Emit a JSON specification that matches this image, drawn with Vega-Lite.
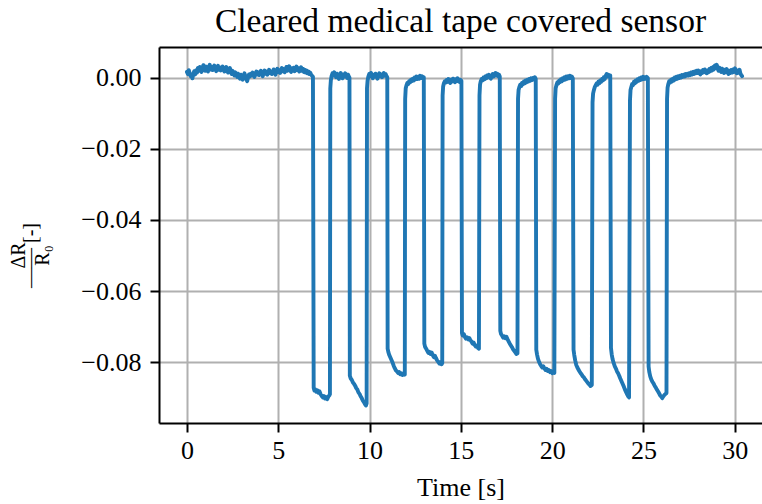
{
  "$schema": "https://vega.github.io/schema/vega-lite/v6.json",
  "width": 603,
  "height": 376,
  "autosize": {"type": "none"},
  "padding": {"left": 159, "top": 47, "right": 0, "bottom": 81},
  "background": "white",
  "title": {
    "text": "Cleared medical tape covered sensor",
    "font": "Liberation Serif",
    "fontSize": 33.5,
    "fontWeight": "normal",
    "color": "black",
    "anchor": "middle",
    "frame": "group",
    "baseline": "alphabetic",
    "offset": -18
  },
  "config": {
    "view": {"stroke": null},
    "font": "Liberation Serif",
    "axis": {
      "domainColor": "black",
      "domainWidth": 2,
      "tickColor": "black",
      "tickWidth": 2,
      "tickSize": 9,
      "gridColor": "#b0b0b0",
      "gridWidth": 2,
      "labelFont": "Liberation Serif",
      "labelFontSize": 26,
      "labelColor": "black",
      "labelFlush": false,
      "labelOverlap": false,
      "titleFont": "Liberation Serif",
      "titleFontSize": 26,
      "titleFontWeight": "normal",
      "titleColor": "black"
    }
  },
  "data": {
    "values": [
      {"t":0.00,"v":0.0016},{"t":0.05,"v":0.0010},{"t":0.10,"v":0.0021},{"t":0.15,"v":0.0012},{"t":0.20,"v":0.0004},
      {"t":0.25,"v":0.0009},{"t":0.30,"v":-0.0002},{"t":0.35,"v":0.0011},{"t":0.40,"v":0.0018},{"t":0.45,"v":0.0009},
      {"t":0.50,"v":0.0021},{"t":0.55,"v":0.0014},{"t":0.60,"v":0.0027},{"t":0.65,"v":0.0019},{"t":0.70,"v":0.0030},
      {"t":0.75,"v":0.0022},{"t":0.80,"v":0.0016},{"t":0.85,"v":0.0028},{"t":0.90,"v":0.0035},{"t":0.95,"v":0.0024},
      {"t":1.00,"v":0.0019},{"t":1.05,"v":0.0031},{"t":1.10,"v":0.0026},{"t":1.15,"v":0.0017},{"t":1.20,"v":0.0029},
      {"t":1.25,"v":0.0036},{"t":1.30,"v":0.0023},{"t":1.35,"v":0.0030},{"t":1.40,"v":0.0021},{"t":1.45,"v":0.0027},
      {"t":1.50,"v":0.0034},{"t":1.55,"v":0.0025},{"t":1.60,"v":0.0018},{"t":1.65,"v":0.0028},{"t":1.70,"v":0.0033},
      {"t":1.75,"v":0.0022},{"t":1.80,"v":0.0029},{"t":1.85,"v":0.0020},{"t":1.90,"v":0.0026},{"t":1.95,"v":0.0031},
      {"t":2.00,"v":0.0023},{"t":2.05,"v":0.0017},{"t":2.10,"v":0.0025},{"t":2.15,"v":0.0030},{"t":2.20,"v":0.0021},
      {"t":2.25,"v":0.0014},{"t":2.30,"v":0.0022},{"t":2.35,"v":0.0027},{"t":2.40,"v":0.0016},{"t":2.45,"v":0.0010},
      {"t":2.50,"v":0.0019},{"t":2.55,"v":0.0012},{"t":2.60,"v":0.0006},{"t":2.65,"v":0.0015},{"t":2.70,"v":0.0009},
      {"t":2.75,"v":0.0002},{"t":2.80,"v":0.0011},{"t":2.85,"v":0.0004},{"t":2.90,"v":-0.0003},{"t":2.95,"v":0.0008},
      {"t":3.00,"v":0.0003},{"t":3.05,"v":-0.0006},{"t":3.10,"v":0.0005},{"t":3.15,"v":0.0012},{"t":3.20,"v":0.0004},
      {"t":3.25,"v":-0.0004},{"t":3.30,"v":-0.0010},{"t":3.35,"v":0.0001},{"t":3.40,"v":0.0009},{"t":3.45,"v":0.0003},
      {"t":3.50,"v":0.0011},{"t":3.55,"v":0.0006},{"t":3.60,"v":0.0014},{"t":3.65,"v":0.0008},{"t":3.70,"v":0.0002},
      {"t":3.75,"v":0.0012},{"t":3.80,"v":0.0017},{"t":3.85,"v":0.0009},{"t":3.90,"v":0.0015},{"t":3.95,"v":0.0007},
      {"t":4.00,"v":0.0013},{"t":4.05,"v":0.0019},{"t":4.10,"v":0.0010},{"t":4.15,"v":0.0004},{"t":4.20,"v":0.0014},
      {"t":4.25,"v":0.0020},{"t":4.30,"v":0.0011},{"t":4.35,"v":0.0017},{"t":4.40,"v":0.0008},{"t":4.45,"v":0.0015},
      {"t":4.50,"v":0.0022},{"t":4.55,"v":0.0013},{"t":4.60,"v":0.0018},{"t":4.65,"v":0.0010},{"t":4.70,"v":0.0016},
      {"t":4.75,"v":0.0023},{"t":4.80,"v":0.0014},{"t":4.85,"v":0.0008},{"t":4.90,"v":0.0019},{"t":4.95,"v":0.0025},
      {"t":5.00,"v":0.0016},{"t":5.05,"v":0.0021},{"t":5.10,"v":0.0013},{"t":5.15,"v":0.0020},{"t":5.20,"v":0.0027},
      {"t":5.25,"v":0.0018},{"t":5.30,"v":0.0024},{"t":5.35,"v":0.0015},{"t":5.40,"v":0.0022},{"t":5.45,"v":0.0030},
      {"t":5.50,"v":0.0019},{"t":5.55,"v":0.0025},{"t":5.60,"v":0.0032},{"t":5.65,"v":0.0021},{"t":5.70,"v":0.0016},
      {"t":5.75,"v":0.0026},{"t":5.80,"v":0.0020},{"t":5.85,"v":0.0028},{"t":5.90,"v":0.0018},{"t":5.95,"v":0.0024},
      {"t":6.00,"v":0.0031},{"t":6.05,"v":0.0021},{"t":6.10,"v":0.0027},{"t":6.15,"v":0.0017},{"t":6.20,"v":0.0023},
      {"t":6.25,"v":0.0029},{"t":6.30,"v":0.0019},{"t":6.35,"v":0.0025},{"t":6.40,"v":0.0016},{"t":6.45,"v":0.0022},
      {"t":6.50,"v":0.0014},{"t":6.55,"v":0.0020},{"t":6.60,"v":0.0012},{"t":6.65,"v":0.0017},{"t":6.70,"v":0.0010},
      {"t":6.75,"v":0.0014},{"t":6.80,"v":0.0008},{"t":6.85,"v":0.0005},{"t":6.90,"v":0.0002},
      {"t":6.94,"v":-0.0872},{"t":6.98,"v":-0.0880},{"t":7.02,"v":-0.0876},{"t":7.08,"v":-0.0883},{"t":7.14,"v":-0.0879},
      {"t":7.20,"v":-0.0886},{"t":7.26,"v":-0.0882},{"t":7.32,"v":-0.0890},{"t":7.38,"v":-0.0895},{"t":7.44,"v":-0.0899},
      {"t":7.50,"v":-0.0895},{"t":7.56,"v":-0.0902},{"t":7.62,"v":-0.0898},{"t":7.68,"v":-0.0904},{"t":7.74,"v":-0.0897},
      {"t":7.80,"v":-0.0893},{"t":7.83,"v":-0.0890},
      {"t":7.85,"v":-0.0030},{"t":7.88,"v":-0.0008},{"t":7.92,"v":0.0004},{"t":7.97,"v":0.0012},{"t":8.02,"v":0.0006},
      {"t":8.07,"v":0.0015},{"t":8.12,"v":0.0008},{"t":8.17,"v":0.0001},{"t":8.22,"v":0.0011},{"t":8.27,"v":0.0004},
      {"t":8.32,"v":-0.0004},{"t":8.37,"v":0.0007},{"t":8.42,"v":0.0013},{"t":8.47,"v":0.0005},{"t":8.52,"v":-0.0002},
      {"t":8.57,"v":0.0009},{"t":8.62,"v":0.0003},{"t":8.67,"v":0.0012},{"t":8.72,"v":0.0006},{"t":8.77,"v":-0.0001},
      {"t":8.82,"v":0.0008},{"t":8.87,"v":0.0003},{"t":8.90,"v":0.0000},
      {"t":8.92,"v":-0.0838},{"t":8.97,"v":-0.0846},{"t":9.03,"v":-0.0850},{"t":9.09,"v":-0.0857},{"t":9.15,"v":-0.0861},
      {"t":9.21,"v":-0.0866},{"t":9.27,"v":-0.0873},{"t":9.33,"v":-0.0877},{"t":9.39,"v":-0.0885},{"t":9.45,"v":-0.0889},
      {"t":9.51,"v":-0.0896},{"t":9.57,"v":-0.0901},{"t":9.63,"v":-0.0908},{"t":9.69,"v":-0.0912},{"t":9.75,"v":-0.0918},
      {"t":9.80,"v":-0.0922},{"t":9.84,"v":-0.0916},
      {"t":9.86,"v":-0.0030},{"t":9.89,"v":-0.0009},{"t":9.93,"v":0.0002},{"t":9.98,"v":0.0010},{"t":10.03,"v":0.0004},
      {"t":10.08,"v":0.0013},{"t":10.13,"v":0.0006},{"t":10.18,"v":-0.0002},{"t":10.23,"v":0.0008},{"t":10.28,"v":0.0003},
      {"t":10.33,"v":0.0011},{"t":10.38,"v":0.0005},{"t":10.43,"v":-0.0003},{"t":10.48,"v":0.0007},{"t":10.53,"v":0.0012},
      {"t":10.58,"v":0.0004},{"t":10.63,"v":0.0009},{"t":10.68,"v":0.0001},{"t":10.73,"v":0.0008},{"t":10.78,"v":0.0013},
      {"t":10.83,"v":0.0005},{"t":10.88,"v":0.0010},{"t":10.93,"v":0.0004},{"t":10.97,"v":0.0001},
      {"t":10.99,"v":-0.0762},{"t":11.03,"v":-0.0772},{"t":11.08,"v":-0.0780},{"t":11.14,"v":-0.0787},{"t":11.20,"v":-0.0794},
      {"t":11.26,"v":-0.0801},{"t":11.32,"v":-0.0810},{"t":11.38,"v":-0.0817},{"t":11.44,"v":-0.0823},{"t":11.50,"v":-0.0826},
      {"t":11.56,"v":-0.0830},{"t":11.62,"v":-0.0828},{"t":11.68,"v":-0.0834},{"t":11.74,"v":-0.0831},{"t":11.80,"v":-0.0836},
      {"t":11.86,"v":-0.0832},{"t":11.93,"v":-0.0835},
      {"t":11.95,"v":-0.0060},{"t":11.98,"v":-0.0030},{"t":12.02,"v":-0.0022},{"t":12.07,"v":-0.0015},{"t":12.12,"v":-0.0018},
      {"t":12.17,"v":-0.0010},{"t":12.22,"v":-0.0013},{"t":12.27,"v":-0.0006},{"t":12.32,"v":-0.0010},{"t":12.37,"v":-0.0003},
      {"t":12.42,"v":-0.0008},{"t":12.47,"v":0.0000},{"t":12.52,"v":-0.0005},{"t":12.57,"v":0.0003},{"t":12.62,"v":-0.0004},
      {"t":12.67,"v":0.0002},{"t":12.72,"v":-0.0003},{"t":12.77,"v":0.0005},{"t":12.82,"v":-0.0001},{"t":12.87,"v":0.0004},
      {"t":12.92,"v":-0.0002},{"t":12.97,"v":0.0001},
      {"t":13.00,"v":-0.0748},{"t":13.04,"v":-0.0757},{"t":13.10,"v":-0.0762},{"t":13.16,"v":-0.0768},{"t":13.22,"v":-0.0774},
      {"t":13.28,"v":-0.0771},{"t":13.34,"v":-0.0777},{"t":13.40,"v":-0.0773},{"t":13.46,"v":-0.0780},{"t":13.52,"v":-0.0786},
      {"t":13.58,"v":-0.0782},{"t":13.64,"v":-0.0789},{"t":13.70,"v":-0.0795},{"t":13.76,"v":-0.0799},{"t":13.82,"v":-0.0804},
      {"t":13.88,"v":-0.0800},{"t":13.94,"v":-0.0806},{"t":13.98,"v":-0.0803},
      {"t":14.00,"v":-0.0050},{"t":14.03,"v":-0.0025},{"t":14.07,"v":-0.0016},{"t":14.12,"v":-0.0010},{"t":14.17,"v":-0.0014},
      {"t":14.22,"v":-0.0007},{"t":14.27,"v":-0.0012},{"t":14.32,"v":-0.0004},{"t":14.37,"v":-0.0009},{"t":14.42,"v":-0.0015},
      {"t":14.47,"v":-0.0006},{"t":14.52,"v":-0.0011},{"t":14.57,"v":-0.0003},{"t":14.62,"v":-0.0008},{"t":14.67,"v":-0.0013},
      {"t":14.72,"v":-0.0005},{"t":14.77,"v":-0.0010},{"t":14.82,"v":-0.0002},{"t":14.87,"v":-0.0007},{"t":14.92,"v":-0.0012},
      {"t":14.97,"v":-0.0006},{"t":15.03,"v":-0.0009},
      {"t":15.06,"v":-0.0718},{"t":15.10,"v":-0.0725},{"t":15.16,"v":-0.0721},{"t":15.22,"v":-0.0729},{"t":15.28,"v":-0.0734},
      {"t":15.34,"v":-0.0730},{"t":15.40,"v":-0.0736},{"t":15.46,"v":-0.0732},{"t":15.52,"v":-0.0738},{"t":15.58,"v":-0.0742},
      {"t":15.64,"v":-0.0748},{"t":15.70,"v":-0.0745},{"t":15.76,"v":-0.0752},{"t":15.82,"v":-0.0756},{"t":15.88,"v":-0.0753},
      {"t":15.94,"v":-0.0760},{"t":15.99,"v":-0.0762},
      {"t":16.02,"v":-0.0050},{"t":16.05,"v":-0.0020},{"t":16.09,"v":-0.0010},{"t":16.14,"v":-0.0004},{"t":16.19,"v":-0.0008},
      {"t":16.24,"v":0.0000},{"t":16.29,"v":-0.0005},{"t":16.34,"v":0.0003},{"t":16.39,"v":-0.0002},{"t":16.44,"v":0.0006},
      {"t":16.49,"v":0.0001},{"t":16.54,"v":0.0008},{"t":16.59,"v":0.0002},{"t":16.64,"v":-0.0003},{"t":16.69,"v":0.0005},
      {"t":16.74,"v":0.0010},{"t":16.79,"v":0.0003},{"t":16.84,"v":0.0009},{"t":16.89,"v":0.0013},{"t":16.94,"v":0.0006},
      {"t":16.99,"v":0.0011},{"t":17.04,"v":0.0004},{"t":17.09,"v":0.0008},{"t":17.13,"v":0.0003},
      {"t":17.16,"v":-0.0712},{"t":17.20,"v":-0.0721},{"t":17.26,"v":-0.0726},{"t":17.32,"v":-0.0731},{"t":17.38,"v":-0.0727},
      {"t":17.44,"v":-0.0733},{"t":17.50,"v":-0.0729},{"t":17.56,"v":-0.0736},{"t":17.62,"v":-0.0742},{"t":17.68,"v":-0.0748},
      {"t":17.74,"v":-0.0753},{"t":17.80,"v":-0.0758},{"t":17.86,"v":-0.0764},{"t":17.92,"v":-0.0768},{"t":17.98,"v":-0.0772},
      {"t":18.04,"v":-0.0777},{"t":18.10,"v":-0.0775},
      {"t":18.13,"v":-0.0060},{"t":18.16,"v":-0.0035},{"t":18.20,"v":-0.0027},{"t":18.25,"v":-0.0020},{"t":18.30,"v":-0.0024},
      {"t":18.35,"v":-0.0015},{"t":18.40,"v":-0.0019},{"t":18.45,"v":-0.0011},{"t":18.50,"v":-0.0016},{"t":18.55,"v":-0.0008},
      {"t":18.60,"v":-0.0013},{"t":18.65,"v":-0.0006},{"t":18.70,"v":-0.0011},{"t":18.75,"v":-0.0004},{"t":18.80,"v":-0.0009},
      {"t":18.85,"v":-0.0002},{"t":18.90,"v":-0.0007},{"t":18.95,"v":-0.0001},{"t":19.00,"v":-0.0005},{"t":19.05,"v":0.0001},
      {"t":19.10,"v":-0.0004},
      {"t":19.13,"v":-0.0765},{"t":19.17,"v":-0.0778},{"t":19.22,"v":-0.0790},{"t":19.28,"v":-0.0799},{"t":19.34,"v":-0.0806},
      {"t":19.40,"v":-0.0811},{"t":19.46,"v":-0.0815},{"t":19.52,"v":-0.0812},{"t":19.58,"v":-0.0818},{"t":19.64,"v":-0.0822},
      {"t":19.70,"v":-0.0819},{"t":19.76,"v":-0.0825},{"t":19.82,"v":-0.0822},{"t":19.88,"v":-0.0828},{"t":19.94,"v":-0.0825},
      {"t":20.00,"v":-0.0831},{"t":20.06,"v":-0.0827},{"t":20.12,"v":-0.0830},
      {"t":20.16,"v":-0.0060},{"t":20.19,"v":-0.0030},{"t":20.23,"v":-0.0022},{"t":20.28,"v":-0.0014},{"t":20.33,"v":-0.0017},
      {"t":20.38,"v":-0.0009},{"t":20.43,"v":-0.0013},{"t":20.48,"v":-0.0005},{"t":20.53,"v":-0.0010},{"t":20.58,"v":-0.0002},
      {"t":20.63,"v":-0.0007},{"t":20.68,"v":0.0001},{"t":20.73,"v":-0.0005},{"t":20.78,"v":0.0003},{"t":20.83,"v":-0.0003},
      {"t":20.88,"v":0.0004},{"t":20.93,"v":-0.0002},{"t":20.98,"v":0.0005},{"t":21.03,"v":-0.0001},{"t":21.08,"v":0.0003},
      {"t":21.13,"v":-0.0002},
      {"t":21.17,"v":-0.0765},{"t":21.21,"v":-0.0780},{"t":21.26,"v":-0.0795},{"t":21.32,"v":-0.0808},{"t":21.38,"v":-0.0815},
      {"t":21.44,"v":-0.0821},{"t":21.50,"v":-0.0826},{"t":21.56,"v":-0.0831},{"t":21.62,"v":-0.0835},{"t":21.68,"v":-0.0840},
      {"t":21.74,"v":-0.0843},{"t":21.80,"v":-0.0848},{"t":21.86,"v":-0.0852},{"t":21.92,"v":-0.0856},{"t":21.98,"v":-0.0860},
      {"t":22.04,"v":-0.0863},{"t":22.10,"v":-0.0867},{"t":22.17,"v":-0.0864},
      {"t":22.21,"v":-0.0070},{"t":22.24,"v":-0.0045},{"t":22.28,"v":-0.0036},{"t":22.33,"v":-0.0027},{"t":22.38,"v":-0.0022},
      {"t":22.43,"v":-0.0017},{"t":22.48,"v":-0.0020},{"t":22.53,"v":-0.0012},{"t":22.58,"v":-0.0016},{"t":22.63,"v":-0.0008},
      {"t":22.68,"v":-0.0012},{"t":22.73,"v":-0.0004},{"t":22.78,"v":-0.0008},{"t":22.83,"v":0.0001},{"t":22.88,"v":-0.0004},
      {"t":22.93,"v":0.0005},{"t":22.98,"v":0.0010},{"t":23.03,"v":0.0003},{"t":23.08,"v":0.0008},{"t":23.13,"v":0.0002},
      {"t":23.18,"v":0.0006},
      {"t":23.22,"v":-0.0760},{"t":23.26,"v":-0.0778},{"t":23.31,"v":-0.0792},{"t":23.37,"v":-0.0803},{"t":23.43,"v":-0.0812},
      {"t":23.49,"v":-0.0818},{"t":23.55,"v":-0.0826},{"t":23.61,"v":-0.0831},{"t":23.67,"v":-0.0838},{"t":23.73,"v":-0.0846},
      {"t":23.79,"v":-0.0853},{"t":23.85,"v":-0.0860},{"t":23.91,"v":-0.0867},{"t":23.97,"v":-0.0875},{"t":24.03,"v":-0.0882},
      {"t":24.09,"v":-0.0889},{"t":24.15,"v":-0.0895},{"t":24.21,"v":-0.0899},
      {"t":24.26,"v":-0.0065},{"t":24.29,"v":-0.0035},{"t":24.33,"v":-0.0027},{"t":24.38,"v":-0.0018},{"t":24.43,"v":-0.0021},
      {"t":24.48,"v":-0.0012},{"t":24.53,"v":-0.0016},{"t":24.58,"v":-0.0008},{"t":24.63,"v":-0.0012},{"t":24.68,"v":-0.0005},
      {"t":24.73,"v":-0.0009},{"t":24.78,"v":-0.0002},{"t":24.83,"v":-0.0007},{"t":24.88,"v":0.0000},{"t":24.93,"v":-0.0005},
      {"t":24.98,"v":0.0002},{"t":25.03,"v":-0.0004},{"t":25.08,"v":0.0001},{"t":25.13,"v":-0.0003},{"t":25.18,"v":0.0002},
      {"t":25.24,"v":-0.0002},
      {"t":25.28,"v":-0.0812},{"t":25.32,"v":-0.0828},{"t":25.37,"v":-0.0840},{"t":25.43,"v":-0.0849},{"t":25.49,"v":-0.0855},
      {"t":25.55,"v":-0.0860},{"t":25.61,"v":-0.0866},{"t":25.67,"v":-0.0871},{"t":25.73,"v":-0.0877},{"t":25.79,"v":-0.0882},
      {"t":25.85,"v":-0.0887},{"t":25.91,"v":-0.0893},{"t":25.97,"v":-0.0897},{"t":26.03,"v":-0.0901},{"t":26.09,"v":-0.0896},
      {"t":26.15,"v":-0.0892},{"t":26.21,"v":-0.0889},{"t":26.26,"v":-0.0887},
      {"t":26.29,"v":-0.0060},{"t":26.32,"v":-0.0028},{"t":26.36,"v":-0.0018},{"t":26.41,"v":-0.0010},{"t":26.46,"v":-0.0014},
      {"t":26.51,"v":-0.0006},{"t":26.56,"v":-0.0011},{"t":26.61,"v":-0.0003},{"t":26.66,"v":-0.0008},{"t":26.71,"v":0.0000},
      {"t":26.76,"v":-0.0005},{"t":26.81,"v":0.0002},{"t":26.86,"v":-0.0003},{"t":26.91,"v":0.0004},{"t":26.96,"v":-0.0001},
      {"t":27.01,"v":0.0005},{"t":27.06,"v":0.0000},{"t":27.11,"v":0.0007},{"t":27.16,"v":0.0002},{"t":27.21,"v":0.0008},
      {"t":27.26,"v":0.0003},{"t":27.31,"v":0.0010},{"t":27.36,"v":0.0005},{"t":27.41,"v":0.0011},{"t":27.46,"v":0.0006},
      {"t":27.51,"v":0.0012},{"t":27.56,"v":0.0007},{"t":27.61,"v":0.0014},{"t":27.66,"v":0.0009},{"t":27.71,"v":0.0016},
      {"t":27.76,"v":0.0010},{"t":27.81,"v":0.0017},{"t":27.86,"v":0.0012},{"t":27.91,"v":0.0019},{"t":27.96,"v":0.0013},
      {"t":28.01,"v":0.0020},{"t":28.06,"v":0.0014},{"t":28.11,"v":0.0009},{"t":28.16,"v":0.0018},{"t":28.21,"v":0.0013},
      {"t":28.26,"v":0.0021},{"t":28.31,"v":0.0015},{"t":28.36,"v":0.0023},{"t":28.41,"v":0.0017},{"t":28.46,"v":0.0012},
      {"t":28.51,"v":0.0020},{"t":28.56,"v":0.0015},{"t":28.61,"v":0.0024},{"t":28.66,"v":0.0018},{"t":28.71,"v":0.0027},
      {"t":28.76,"v":0.0020},{"t":28.81,"v":0.0030},{"t":28.86,"v":0.0023},{"t":28.91,"v":0.0034},{"t":28.96,"v":0.0027},
      {"t":29.01,"v":0.0036},{"t":29.06,"v":0.0025},{"t":29.11,"v":0.0019},{"t":29.16,"v":0.0028},{"t":29.21,"v":0.0022},
      {"t":29.26,"v":0.0016},{"t":29.31,"v":0.0025},{"t":29.36,"v":0.0019},{"t":29.41,"v":0.0013},{"t":29.46,"v":0.0022},
      {"t":29.51,"v":0.0015},{"t":29.56,"v":0.0024},{"t":29.61,"v":0.0017},{"t":29.66,"v":0.0010},{"t":29.71,"v":0.0019},
      {"t":29.76,"v":0.0013},{"t":29.81,"v":0.0021},{"t":29.86,"v":0.0014},{"t":29.91,"v":0.0023},{"t":29.96,"v":0.0016},
      {"t":30.01,"v":0.0026},{"t":30.06,"v":0.0018},{"t":30.11,"v":0.0012},{"t":30.16,"v":0.0020},{"t":30.21,"v":0.0014},
      {"t":30.26,"v":0.0022},{"t":30.31,"v":0.0011},{"t":30.36,"v":0.0007},{"t":30.40,"v":0.0004}
    ]
  },
  "layer": [
    {
      "mark": {"type": "line", "color": "#1f77b4", "strokeWidth": 3.9, "strokeJoin": "round", "strokeCap": "round", "clip": true},
      "encoding": {
        "x": {
          "field": "t",
          "type": "quantitative",
          "scale": {"domain": [-1.53, 31.49], "nice": false, "zero": false},
          "axis": {
            "orient": "bottom",
            "values": [0, 5, 10, 15, 20, 25, 30],
            "format": "d",
            "grid": true,
            "labelPadding": 5,
            "title": "Time [s]",
            "titlePadding": 11
          }
        },
        "y": {
          "field": "v",
          "type": "quantitative",
          "scale": {"domain": [-0.0971, 0.0086], "nice": false, "zero": false},
          "axis": {
            "values": [0, -0.02, -0.04, -0.06, -0.08],
            "format": ".2f",
            "grid": true,
            "labelPadding": 9,
            "title": ["ΔR\u00a0\u00a0\u00a0\u00a0\u00a0", "——\u00a0[-]", "R₀\u00a0\u00a0\u00a0\u00a0\u00a0"],
            "titleFontSize": 20,
            "titleLineHeight": 12,
            "titlePadding": 28,
            "titleY": 208
          }
        }
      }
    },
    {
      "mark": {"type": "line", "opacity": 0},
      "encoding": {
        "x": {
          "field": "t",
          "type": "quantitative",
          "axis": {"orient": "top", "labels": false, "ticks": false, "grid": false, "domain": true, "title": null, "minExtent": 0, "maxExtent": 0}
        },
        "y": {"field": "v", "type": "quantitative", "axis": null}
      }
    }
  ],
  "resolve": {"axis": {"x": "independent", "y": "independent"}}
}
